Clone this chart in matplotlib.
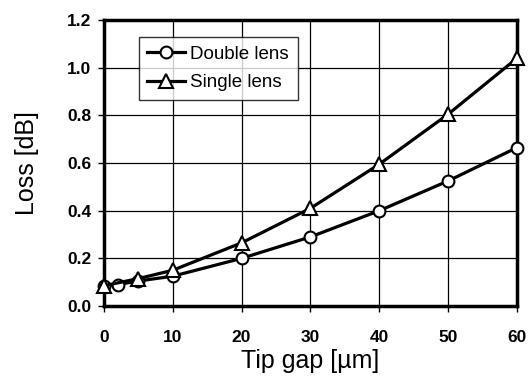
import matplotlib
matplotlib.use("Agg")
import matplotlib.pyplot as plt

plt.rcParams['font.family'] = ['Liberation Sans', 'DejaVu Sans']

# data
gap_double = [0, 2, 5, 10, 20, 30, 40, 50, 60]
loss_double = [0.085, 0.09, 0.105, 0.125, 0.20, 0.29, 0.40, 0.525, 0.665]
gap_single = [0, 5, 10, 20, 30, 40, 50, 60]
loss_single = [0.085, 0.115, 0.15, 0.265, 0.41, 0.595, 0.805, 1.04]

fig = plt.figure(figsize=(5.32, 3.84), dpi=100)
ax = fig.add_axes([0.195, 0.203, 0.777, 0.745])

ax.plot(gap_double, loss_double, color='black', lw=2.3, marker='o', ms=8.5,
        mfc='white', mec='black', mew=1.5, label='Double lens', zorder=3,
        clip_on=False)
ax.plot(gap_single, loss_single, color='black', lw=2.3, marker='^', ms=9.5,
        mfc='white', mec='black', mew=1.5, label='Single lens', zorder=3,
        clip_on=False)

ax.set_xlim(0, 60)
ax.set_ylim(0, 1.2)
ax.set_xticks([0, 10, 20, 30, 40, 50, 60])
ax.set_yticks([0.0, 0.2, 0.4, 0.6, 0.8, 1.0, 1.2])
ax.set_yticklabels(['0.0', '0.2', '0.4', '0.6', '0.8', '1.0', '1.2'])
ax.grid(True, color='black', lw=0.9)
for s in ax.spines.values():
    s.set_linewidth(2.5)
ax.tick_params(direction='out', length=4, width=1, labelsize=12.5, pad=5)
for lab in ax.get_xticklabels() + ax.get_yticklabels():
    lab.set_fontweight('bold')
ax.tick_params(axis='x', pad=13)

ax.set_xlabel('Tip gap [\u00b5m]', fontsize=18, labelpad=3)
ax.set_ylabel('Loss [dB]', fontsize=18, labelpad=20)

leg = ax.legend(loc='upper left', bbox_to_anchor=(0.085, 0.94), fontsize=13.5,
                frameon=True, fancybox=False, edgecolor='black',
                handlelength=2.0, handletextpad=0.3, borderpad=0.45,
                labelspacing=0.6, borderaxespad=0)
leg.get_frame().set_linewidth(1)

fig.savefig('out.png', dpi=100)
